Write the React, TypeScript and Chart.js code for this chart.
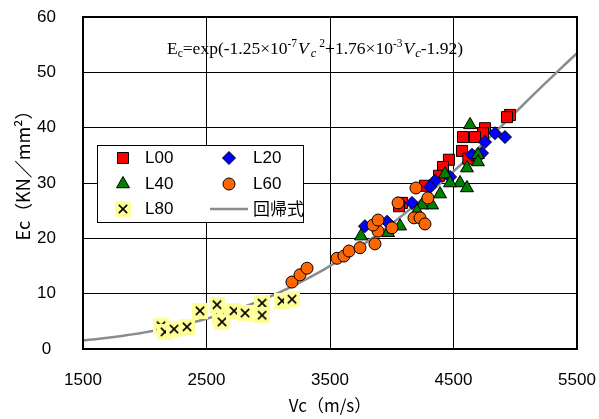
import React, { useEffect, useRef } from 'react';
import { Chart, registerables } from 'chart.js';

Chart.register(...registerables);

// ---- data ----
const xTickValues = [1500, 2500, 3500, 4500, 5500];
const yTickValues = [0, 10, 20, 30, 40, 50, 60];

const L00Vc = [4957, 4933, 4755, 4739, 4674, 4577, 4569, 4620, 4463, 4415, 4383, 4269, 4083, 4059];
const L00Ec = [42.3, 41.9, 39.9, 39.0, 38.3, 38.3, 35.8, 34.4, 34.2, 32.9, 31.3, 29.5, 26.4, 25.8];

const L20Vc = [4917, 4836, 4755, 4731, 4650, 4472, 4350, 4310, 4164, 3962, 3783];
const L20Ec = [38.3, 39.0, 37.4, 35.4, 35.1, 31.1, 30.4, 29.3, 26.4, 23.0, 22.2];

const L40Vc = [4634, 4698, 4698, 4609, 4431, 4553, 4609, 4472, 4391, 4326, 4245, 4204, 4067, 3970, 3751];
const L40Ec = [40.5, 35.1, 33.8, 32.7, 31.6, 30.0, 29.1, 30.0, 28.0, 26.0, 26.0, 24.9, 22.2, 21.0, 20.4];

const L60Vc = [3192, 3257, 3314, 3557, 3613, 3654, 3743, 3864, 3889, 3848, 3889, 4002, 4051, 4180, 4229, 4269, 4196, 4293];
const L60Ec = [12.1, 13.4, 14.6, 16.4, 16.8, 17.7, 18.3, 19.0, 21.3, 22.4, 23.3, 21.9, 26.4, 23.7, 23.7, 22.6, 29.1, 27.3];

const L80Vc = [2132, 2164, 2237, 2342, 2447, 2585, 2609, 2626, 2723, 2812, 2950, 2950, 3111, 3192];
const L80Ec = [4.2, 3.1, 3.6, 4.0, 6.9, 8.0, 5.6, 4.9, 6.9, 6.5, 8.3, 6.1, 8.7, 9.0];

// regression: Ec = exp(a*Vc^2 + b*Vc + c)
const fitA = -1.25e-7;
const fitB = 1.76e-3;
const fitC = -1.92;
const fitRange = [1500, 5500];

const seriesLabels = ['L00', 'L20', 'L40', 'L60', 'L80', '回帰式'];

const SANS = '"Liberation Sans", Arial, sans-serif';
const CJK = '"Noto Sans CJK JP", sans-serif';
const SERIF = '"Liberation Serif", "Times New Roman", serif';

const COLORS = {
  L00: '#FF0000',
  L20: '#0000FF',
  L40: '#008000',
  L60: '#FF6600',
  L80: '#FFFF99',
  fit: '#8C8C8C',
};

function pts(xs: number[], ys: number[]) {
  return xs.map((x, i) => ({ x, y: ys[i] }));
}

function fitPoints() {
  const out: { x: number; y: number }[] = [];
  for (let v = fitRange[0]; v <= fitRange[1]; v += 50) {
    out.push({ x: v, y: Math.exp(fitA * v * v + fitB * v + fitC) });
  }
  return out;
}

function makeL80Marker(size: number) {
  const c = document.createElement('canvas');
  c.width = size;
  c.height = size;
  const g = c.getContext('2d')!;
  g.fillStyle = COLORS.L80;
  g.fillRect(0, 0, size, size);
  g.strokeStyle = '#000';
  g.lineWidth = 1.6;
  const m = size * 0.24;
  g.beginPath();
  g.moveTo(m, m);
  g.lineTo(size - m, size - m);
  g.moveTo(size - m, m);
  g.lineTo(m, size - m);
  g.stroke();
  return c;
}

function drawMarker(ctx: CanvasRenderingContext2D, kind: string, x: number, y: number, l80: HTMLCanvasElement) {
  ctx.save();
  ctx.lineWidth = 1;
  ctx.strokeStyle = '#000';
  ctx.beginPath();
  if (kind === 'L00') {
    ctx.fillStyle = COLORS.L00;
    ctx.rect(x - 5.5, y - 5.5, 11, 11);
  } else if (kind === 'L20') {
    ctx.fillStyle = COLORS.L20;
    ctx.moveTo(x, y - 6.5);
    ctx.lineTo(x + 6.5, y);
    ctx.lineTo(x, y + 6.5);
    ctx.lineTo(x - 6.5, y);
    ctx.closePath();
  } else if (kind === 'L40') {
    ctx.fillStyle = COLORS.L40;
    const r = 7.5;
    ctx.moveTo(x, y - r);
    ctx.lineTo(x + r * 0.866, y + r * 0.5);
    ctx.lineTo(x - r * 0.866, y + r * 0.5);
    ctx.closePath();
  } else if (kind === 'L60') {
    ctx.fillStyle = COLORS.L60;
    ctx.arc(x, y, 6, 0, Math.PI * 2);
  } else if (kind === 'L80') {
    ctx.drawImage(l80, x - l80.width / 2, y - l80.height / 2);
    ctx.restore();
    return;
  }
  ctx.fill();
  ctx.stroke();
  ctx.restore();
}

export default function App() {
  const ref = useRef<HTMLCanvasElement | null>(null);

  useEffect(() => {
    if (!ref.current) return;
    const l80 = makeL80Marker(16);

    const overlay = {
      id: 'overlay',
      afterDatasetsDraw(chart: any) {
        const ctx: CanvasRenderingContext2D = chart.ctx;
        const a = chart.chartArea;
        ctx.save();
        // frame
        ctx.strokeStyle = '#000';
        ctx.lineWidth = 2;
        ctx.strokeRect(a.left, a.top, a.right - a.left, a.bottom - a.top);

        // legend
        const lx = 97, ly = 145, lw = 206, lh = 77;
        ctx.fillStyle = '#fff';
        ctx.fillRect(lx, ly, lw, lh);
        ctx.lineWidth = 1;
        ctx.strokeStyle = '#000';
        ctx.strokeRect(lx + 0.5, ly + 0.5, lw, lh);
        const rows = [158, 184, 209];
        const cols = [{ m: 123, t: 145 }, { m: 229, t: 253 }];
        const entries = [
          { k: 'L00', c: 0, r: 0 },
          { k: 'L20', c: 1, r: 0 },
          { k: 'L40', c: 0, r: 1 },
          { k: 'L60', c: 1, r: 1 },
          { k: 'L80', c: 0, r: 2 },
          { k: 'fit', c: 1, r: 2 },
        ];
        entries.forEach((e, i) => {
          const y = rows[e.r];
          const col = cols[e.c];
          if (e.k === 'fit') {
            ctx.strokeStyle = COLORS.fit;
            ctx.lineWidth = 2.5;
            ctx.beginPath();
            ctx.moveTo(210, y);
            ctx.lineTo(248, y);
            ctx.stroke();
            ctx.fillStyle = '#000';
            ctx.font = `17px ${CJK}`;
            ctx.textBaseline = 'middle';
            ctx.textAlign = 'left';
            ctx.fillText(seriesLabels[i], col.t, y);
          } else {
            drawMarker(ctx, e.k, col.m, y, l80);
            ctx.fillStyle = '#000';
            ctx.font = `17px ${SANS}`;
            ctx.textBaseline = 'middle';
            ctx.textAlign = 'left';
            ctx.fillText(seriesLabels[i], col.t, y);
          }
        });

        // equation
        const base = 17.5;
        const small = 11.5;
        type Seg = { t: string; it?: boolean; dy?: number; sz?: number; gap?: number };
        const segs: Seg[] = [
          { t: 'E' },
          { t: 'c', sz: small, dy: 3 },
          { t: '=exp(-1.25×10' },
          { t: '-7', sz: small, dy: -7 },
          { t: 'V', it: true, gap: 1 },
          { t: 'c', it: true, sz: small + 1, dy: 3, gap: 2 },
          { t: '2', sz: small, dy: -7, gap: 3 },
          { t: '+1.76×10' },
          { t: '-3', sz: small, dy: -7 },
          { t: 'V', it: true, gap: 1 },
          { t: 'c', it: true, sz: small + 1, dy: 3, gap: 1 },
          { t: '-1.92)' },
        ];
        const fontOf = (s: Seg) => `${s.it ? 'italic ' : ''}${s.sz || base}px ${SERIF}`;
        let total = 0;
        segs.forEach((s) => {
          ctx.font = fontOf(s);
          total += (s.gap || 0) + ctx.measureText(s.t).width;
        });
        let x = 315 - total / 2;
        const by = 54;
        ctx.fillStyle = '#000';
        ctx.textAlign = 'left';
        ctx.textBaseline = 'alphabetic';
        segs.forEach((s) => {
          ctx.font = fontOf(s);
          x += s.gap || 0;
          ctx.fillText(s.t, x, by + (s.dy || 0));
          x += ctx.measureText(s.t).width;
        });

        // axis titles
        ctx.font = `17px ${CJK}`;
        ctx.textAlign = 'center';
        ctx.textBaseline = 'middle';
        ctx.fillText('Vc（m/s）', (a.left + a.right) / 2, 406);
        ctx.save();
        ctx.font = `18px ${CJK}`;
        ctx.translate(23, 171);
        ctx.rotate(-Math.PI / 2);
        ctx.fillText('Ec（KN／mm²）', 0, 0);
        ctx.restore();

        ctx.restore();
      },
    };

    const chart = new Chart(ref.current, {
      type: 'scatter',
      data: {
        datasets: [
          {
            label: seriesLabels[5],
            data: fitPoints(),
            showLine: true,
            borderColor: COLORS.fit,
            borderWidth: 2.5,
            pointRadius: 0,
            fill: false,
            order: 10,
          },
          {
            label: seriesLabels[0],
            data: pts(L00Vc, L00Ec),
            pointStyle: 'rect',
            pointRadius: 7.8,
            backgroundColor: COLORS.L00,
            borderColor: '#000',
            borderWidth: 1,
            order: 5,
          },
          {
            label: seriesLabels[1],
            data: pts(L20Vc, L20Ec),
            pointStyle: 'rectRot',
            pointRadius: 6.5,
            backgroundColor: COLORS.L20,
            borderColor: '#000',
            borderWidth: 1,
            order: 4,
          },
          {
            label: seriesLabels[2],
            data: pts(L40Vc, L40Ec),
            pointStyle: 'triangle',
            pointRadius: 7.5,
            backgroundColor: COLORS.L40,
            borderColor: '#000',
            borderWidth: 1,
            order: 3,
          },
          {
            label: seriesLabels[3],
            data: pts(L60Vc, L60Ec),
            pointStyle: 'circle',
            pointRadius: 6,
            backgroundColor: COLORS.L60,
            borderColor: '#000',
            borderWidth: 1,
            order: 2,
          },
          {
            label: seriesLabels[4],
            data: pts(L80Vc, L80Ec),
            pointStyle: l80 as any,
            pointRadius: 8,
            order: 1,
          },
        ],
      },
      options: {
        animation: false,
        responsive: true,
        maintainAspectRatio: false,
        layout: { padding: { left: 0, top: 17, right: 22, bottom: 0 } },
        plugins: {
          legend: { display: false },
          tooltip: { enabled: false },
          title: { display: false },
        },
        scales: {
          x: {
            type: 'linear',
            min: fitRange[0],
            max: fitRange[1],
            afterBuildTicks: (s: any) => {
              s.ticks = xTickValues.map((v) => ({ value: v }));
            },
            afterFit: (s: any) => {
              s.height = 70;
              s.paddingLeft = 0;
              s.paddingRight = 0;
              s.paddingTop = 0;
              s.paddingBottom = 0;
            },
            ticks: {
              color: '#000',
              font: { family: SANS, size: 17 },
              padding: 21,
              maxRotation: 0,
              autoSkip: false,
              callback: (v: any) => String(v),
            },
            grid: { color: '#000', lineWidth: 1, drawTicks: false },
            border: { display: true, color: '#000', width: 2 },
          },
          y: {
            type: 'linear',
            min: 0,
            max: 60,
            afterBuildTicks: (s: any) => {
              s.ticks = yTickValues.map((v) => ({ value: v }));
            },
            afterFit: (s: any) => {
              s.width = 83;
              s.paddingLeft = 0;
              s.paddingRight = 0;
              s.paddingTop = 0;
              s.paddingBottom = 0;
            },
            ticks: {
              color: '#000',
              font: { family: SANS, size: 17 },
              padding: 27,
              crossAlign: 'center',
              autoSkip: false,
              callback: (v: any) => String(v),
            },
            grid: { color: '#000', lineWidth: 1, drawTicks: false },
            border: { display: true, color: '#000', width: 2 },
          },
        },
      },
      plugins: [overlay],
    });

    return () => chart.destroy();
  }, []);

  return (
    <div style={{ position: 'fixed', left: 0, top: 0, width: 599, height: 419, background: '#fff' }}>
      <canvas ref={ref} />
    </div>
  );
}
